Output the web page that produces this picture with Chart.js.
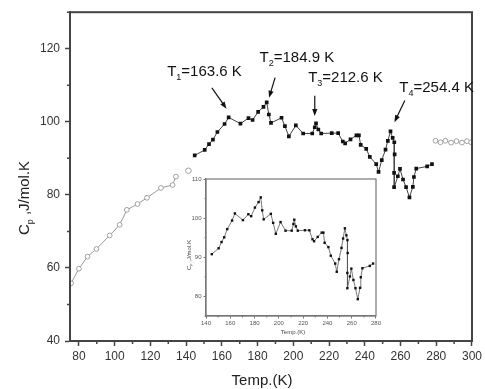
<!DOCTYPE html>
<html>
<head>
<meta charset="utf-8">
<script src="https://cdn.jsdelivr.net/npm/chart.js@4"></script>
<style>
  body { margin: 0; background: #fff; }
  #wrap { position: relative; width: 485px; height: 389px; }
  #main { position: absolute; left: 0; top: 0; }
  #inset { position: absolute; left: 176px; top: 172px; }
</style>
</head>
<body>
<div id="wrap">
  <canvas id="main" width="485" height="389"></canvas>
  <canvas id="inset" width="206" height="168"></canvas>
</div>
<script>
// Cp data
const tempLow = [75.6, 80.0, 84.8, 89.8, 97.2, 102.8, 106.8, 112.8, 118.1, 125.9, 132.4, 134.3];
const cpLow = [55.8, 59.8, 63.1, 65.2, 68.9, 71.8, 75.9, 77.5, 79.2, 81.9, 82.7, 85.0];

const tempStray = [141.3];
const cpStray = [86.6];

const tempMid = [144.8, 150.4, 152.8, 155.0, 157.5, 161.5, 163.8, 170.4, 174.9, 177.2,
  180.3, 183.3, 185.1, 186.3, 187.5, 193.4, 195.3, 197.5, 201.4, 205.5,
  210.6, 212.0, 212.7, 214.0, 215.6, 221.5, 225.1, 227.7, 229.0, 232.0,
  235.3, 236.7, 237.7, 240.8, 242.8, 246.4, 247.7, 249.5, 251.6, 252.9,
  254.4, 255.6, 256.5, 256.7, 256.4, 256.4, 258.5, 259.7, 261.4, 263.1,
  265.0, 266.9, 267.5, 268.8, 274.9, 277.6];
const cpMid = [90.8, 92.3, 93.9, 95.1, 97.2, 99.4, 101.2, 99.5, 101.0, 100.5,
  102.7, 104.1, 105.3, 102.0, 99.7, 101.1, 98.8, 96.0, 99.0, 96.8,
  96.8, 98.5, 99.6, 97.9, 96.8, 96.9, 96.9, 94.6, 94.1, 95.2,
  96.3, 96.3, 93.7, 92.6, 90.4, 88.4, 86.3, 89.5, 92.4, 94.8,
  97.4, 95.6, 94.4, 91.1, 86.0, 82.1, 85.1, 87.1, 84.2, 82.1,
  79.3, 82.2, 84.9, 87.2, 87.8, 88.4];

const tempHigh = [279.6, 282.4, 285.1, 288.3, 291.3, 294.4, 297.2, 299.5];
const cpHigh = [94.8, 94.4, 94.8, 94.3, 94.7, 94.3, 94.7, 94.4];

// transition labels
const transSub = ['1', '2', '3', '4'];
const transTemp = ['163.6', '184.9', '212.6', '254.4'];

const xTicksMain = [80, 100, 120, 140, 160, 180, 200, 220, 240, 260, 280, 300];
const yTicksMain = [40, 60, 80, 100, 120];

const pts = (xs, ys) => xs.map((x, i) => ({ x: x, y: ys[i] }));
const FONT = 'Arial, "Liberation Sans", sans-serif';

// where the notes sit, in data units (text anchor, arrow tail, arrow head)
const notePlace = [
  { tx: 129.4, ty: 113.7, ax: [154.4, 109.3], bx: [162.6, 103.6] },
  { tx: 181.1, ty: 117.5, ax: [189.8, 112.1], bx: [186.4, 106.6] },
  { tx: 208.3, ty: 112.0, ax: [212.0, 107.1], bx: [212.0, 101.6] },
  { tx: 259.3, ty: 109.3, ax: [262.4, 105.8], bx: [256.6, 99.9] }
];

function drawSubText(ctx, x, y, main, sub, rest, size) {
  ctx.textBaseline = 'middle';
  ctx.textAlign = 'left';
  ctx.font = size + 'px ' + FONT;
  ctx.fillText(main, x, y);
  let w = ctx.measureText(main).width;
  ctx.font = Math.round(size * 0.62) + 'px ' + FONT;
  ctx.fillText(sub, x + w, y + size * 0.38);
  w += ctx.measureText(sub).width;
  ctx.font = size + 'px ' + FONT;
  ctx.fillText(rest, x + w, y);
}

function arrow(ctx, x1, y1, x2, y2) {
  const a = Math.atan2(y2 - y1, x2 - x1);
  ctx.beginPath();
  ctx.moveTo(x1, y1);
  ctx.lineTo(x2 - 4 * Math.cos(a), y2 - 4 * Math.sin(a));
  ctx.stroke();
  ctx.beginPath();
  ctx.moveTo(x2, y2);
  ctx.lineTo(x2 - 7 * Math.cos(a) + 2.6 * Math.sin(a), y2 - 7 * Math.sin(a) - 2.6 * Math.cos(a));
  ctx.lineTo(x2 - 7 * Math.cos(a) - 2.6 * Math.sin(a), y2 - 7 * Math.sin(a) + 2.6 * Math.cos(a));
  ctx.closePath();
  ctx.fill();
}

// shorter minor ticks between the labelled ones
function minorTicks(chart, step, len, col, width) {
  const ctx = chart.ctx, a = chart.chartArea;
  const xs = chart.scales.x, ys = chart.scales.y;
  ctx.save();
  ctx.strokeStyle = col;
  ctx.lineWidth = width;
  ctx.beginPath();
  for (let v = Math.ceil(xs.min / step) * step; v <= xs.max; v += step) {
    if (v % (2 * step) === 0) continue;
    const px = xs.getPixelForValue(v);
    ctx.moveTo(px, a.bottom);
    ctx.lineTo(px, a.bottom + len);
  }
  const ystep = chart.canvas.id === 'inset' ? 5 : step;
  for (let v = Math.ceil(ys.min / ystep) * ystep; v <= ys.max; v += ystep) {
    if (v % (2 * ystep) === 0) continue;
    const py = ys.getPixelForValue(v);
    ctx.moveTo(a.left, py);
    ctx.lineTo(a.left - len, py);
  }
  ctx.stroke();
  ctx.restore();
}

const mainDecor = {
  id: 'mainDecor',
  afterDraw(chart) {
    const ctx = chart.ctx, a = chart.chartArea;
    const xs = chart.scales.x, ys = chart.scales.y;
    minorTicks(chart, 10, 3, '#444', 1.5);
    ctx.save();
    ctx.strokeStyle = '#444';
    ctx.lineWidth = 2;
    ctx.strokeRect(a.left, a.top, a.right - a.left, a.bottom - a.top);

    // axis titles
    ctx.fillStyle = '#222';
    ctx.font = '15px ' + FONT;
    ctx.textAlign = 'center';
    ctx.textBaseline = 'middle';
    ctx.fillText('Temp.(K)', 262, 381);
    ctx.save();
    ctx.translate(25, 198);
    ctx.rotate(-Math.PI / 2);
    ctx.font = '15px ' + FONT;
    const w1 = ctx.measureText('C').width;
    ctx.font = '9px ' + FONT;
    const w2 = ctx.measureText('p').width;
    ctx.font = '15px ' + FONT;
    const w3 = ctx.measureText(' ,J/mol.K').width;
    drawSubText(ctx, -(w1 + w2 + w3) / 2, 0, 'C', 'p', ' ,J/mol.K', 15);
    ctx.restore();

    // transition notes
    ctx.fillStyle = '#111';
    ctx.strokeStyle = '#111';
    ctx.lineWidth = 1.2;
    notePlace.forEach((n, i) => {
      drawSubText(ctx, xs.getPixelForValue(n.tx), ys.getPixelForValue(n.ty),
        'T', transSub[i], '=' + transTemp[i] + ' K', 15);
      arrow(ctx, xs.getPixelForValue(n.ax[0]), ys.getPixelForValue(n.ax[1]),
        xs.getPixelForValue(n.bx[0]), ys.getPixelForValue(n.bx[1]));
    });
    ctx.restore();
  }
};

const insetDecor = {
  id: 'insetDecor',
  afterDraw(chart) {
    const ctx = chart.ctx, a = chart.chartArea;
    minorTicks(chart, 10, 1.5, '#777', 1);
    ctx.save();
    ctx.strokeStyle = '#777';
    ctx.lineWidth = 1.2;
    ctx.strokeRect(a.left, a.top, a.right - a.left, a.bottom - a.top);
    ctx.fillStyle = '#444';
    ctx.font = '6px ' + FONT;
    ctx.textAlign = 'center';
    ctx.textBaseline = 'middle';
    ctx.fillText('Temp.(K)', 117, 160);
    ctx.save();
    ctx.translate(13, 80);
    ctx.rotate(-Math.PI / 2);
    drawSubText(ctx, -18, 0, 'C', 'p', ' ,J/mol.K', 6);
    ctx.restore();
    ctx.restore();
  }
};

const tickCol = (step, col) => (c) => (c.tick && Math.abs(c.tick.value % step) < 1e-6 ? col : 'rgba(0,0,0,0)');

new Chart(document.getElementById('main'), {
  type: 'scatter',
  data: {
    datasets: [
      {
        data: pts(tempLow, cpLow), showLine: true,
        borderColor: '#999', borderWidth: 1, pointStyle: 'circle', pointRadius: 2.4,
        pointBackgroundColor: '#fff', pointBorderColor: '#a0a0a0', pointBorderWidth: 1
      },
      {
        data: pts(tempStray, cpStray), showLine: false,
        pointStyle: 'circle', pointRadius: 2.8,
        pointBackgroundColor: '#fff', pointBorderColor: '#a0a0a0', pointBorderWidth: 1
      },
      {
        data: pts(tempMid, cpMid), showLine: true,
        borderColor: '#444', borderWidth: 1, pointStyle: 'rect', pointRadius: 2.6,
        pointBackgroundColor: '#111', pointBorderColor: '#111', pointBorderWidth: 0
      },
      {
        data: pts(tempHigh, cpHigh), showLine: true,
        borderColor: '#aaa', borderWidth: 1, pointStyle: 'circle', pointRadius: 2.4,
        pointBackgroundColor: '#fff', pointBorderColor: '#a0a0a0', pointBorderWidth: 1
      }
    ]
  },
  options: {
    responsive: false,
    animation: false,
    devicePixelRatio: 1,
    layout: { padding: { top: 12, right: 10, left: 0, bottom: 0 } },
    plugins: { legend: { display: false }, tooltip: { enabled: false } },
    scales: {
      x: {
        type: 'linear', min: 75, max: 300,
        afterFit: (s) => { s.height = 48; },
        ticks: {
          stepSize: 10, autoSkip: false, maxRotation: 0, padding: 3, includeBounds: false,
          color: '#333', font: { family: FONT, size: 12 },
          callback: (v) => (xTicksMain.includes(v) ? v : '')
        },
        grid: { drawOnChartArea: false, tickLength: 5, tickWidth: 1.5, tickColor: tickCol(20, '#444') },
        border: { color: '#444', width: 2 }
      },
      y: {
        min: 40, max: 130,
        afterFit: (s) => { s.width = 70; },
        ticks: {
          stepSize: 10, autoSkip: false, padding: 5, includeBounds: false,
          color: '#333', font: { family: FONT, size: 12 },
          callback: (v) => (yTicksMain.includes(v) ? v : '')
        },
        grid: { drawOnChartArea: false, tickLength: 5, tickWidth: 1.5, tickColor: tickCol(20, '#444') },
        border: { color: '#444', width: 2 }
      }
    }
  },
  plugins: [mainDecor]
});

new Chart(document.getElementById('inset'), {
  type: 'scatter',
  data: {
    datasets: [
      {
        data: pts(tempMid, cpMid), showLine: true,
        borderColor: '#555', borderWidth: 0.8, pointStyle: 'rect', pointRadius: 1.7,
        pointBackgroundColor: '#111', pointBorderColor: '#111', pointBorderWidth: 0
      }
    ]
  },
  options: {
    responsive: false,
    animation: false,
    devicePixelRatio: 1,
    layout: { padding: { top: 7, right: 4, left: 0, bottom: 0 } },
    plugins: { legend: { display: false }, tooltip: { enabled: false } },
    scales: {
      x: {
        type: 'linear', min: 140, max: 280,
        afterFit: (s) => { s.height = 24; },
        ticks: {
          stepSize: 10, autoSkip: false, maxRotation: 0, padding: 1, includeBounds: false,
          color: '#555', font: { family: FONT, size: 6 },
          callback: (v) => (v % 20 === 0 ? v : '')
        },
        grid: { drawOnChartArea: false, tickLength: 2.5, tickColor: tickCol(20, '#777') },
        border: { color: '#777', width: 1.2 }
      },
      y: {
        min: 75, max: 110,
        afterFit: (s) => { s.width = 30; },
        ticks: {
          stepSize: 5, autoSkip: false, padding: 2, includeBounds: false,
          color: '#555', font: { family: FONT, size: 6 },
          callback: (v) => (v % 10 === 0 ? v : '')
        },
        grid: { drawOnChartArea: false, tickLength: 2.5, tickColor: tickCol(10, '#777') },
        border: { color: '#777', width: 1.2 }
      }
    }
  },
  plugins: [insetDecor]
});
</script>
</body>
</html>
